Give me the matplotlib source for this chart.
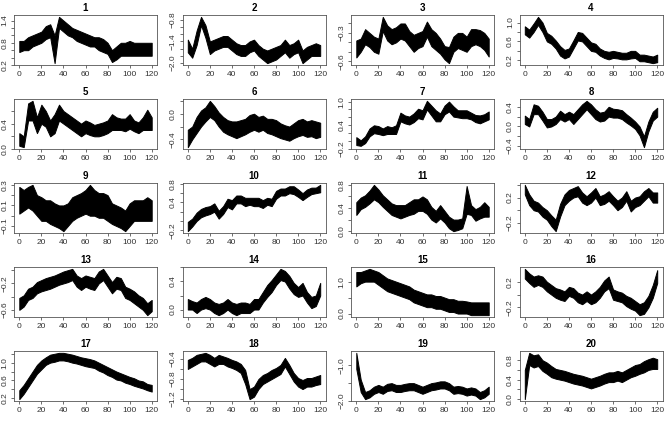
import numpy as np
import matplotlib
matplotlib.use("Agg")
import matplotlib.pyplot as plt

plt.rcParams['font.family'] = ['Liberation Sans', 'DejaVu Sans']

# time axis (every 4 units), lower and upper envelope of each noisy series
x = [0, 4, 8, 12, 16, 20, 24, 28, 32, 36, 40, 44, 48, 52, 56, 60,
     64, 68, 72, 76, 80, 84, 88, 92, 96, 100, 104, 108, 112, 116, 120]

p1_lo = [0.55, 0.6, 0.6, 0.7, 0.75, 0.8, 0.9, 0.95, 0.25, 1.2, 1.1, 1.0, 0.95, 0.85, 0.8, 0.75,
         0.7, 0.7, 0.6, 0.55, 0.5, 0.28, 0.35, 0.45, 0.45, 0.45, 0.45, 0.45, 0.45, 0.45, 0.45]
p1_hi = [0.85, 0.85, 0.95, 1.0, 1.05, 1.1, 1.25, 1.3, 1.0, 1.5, 1.4, 1.3, 1.2, 1.15, 1.1, 1.05,
         1.0, 0.95, 0.95, 0.9, 0.8, 0.6, 0.7, 0.8, 0.8, 0.85, 0.8, 0.8, 0.8, 0.8, 0.8]
p2_lo = [-1.7, -1.85, -1.5, -0.95, -1.3, -1.75, -1.65, -1.6, -1.55, -1.55, -1.65, -1.75, -1.8, -1.8, -1.7, -1.65,
         -1.8, -1.9, -2.0, -1.95, -1.9, -1.8, -1.7, -1.85, -1.75, -1.7, -2.0, -1.9, -1.8, -1.8, -1.8]
p2_hi = [-1.35, -1.6, -1.1, -0.72, -0.95, -1.4, -1.35, -1.3, -1.25, -1.25, -1.35, -1.45, -1.5, -1.5, -1.4, -1.35,
         -1.5, -1.6, -1.65, -1.6, -1.55, -1.5, -1.35, -1.5, -1.45, -1.35, -1.65, -1.55, -1.5, -1.45, -1.5]
p3_lo = [-0.56, -0.5, -0.42, -0.45, -0.5, -0.52, -0.28, -0.38, -0.42, -0.4, -0.36, -0.38, -0.44, -0.5, -0.46, -0.44,
         -0.34, -0.44, -0.48, -0.52, -0.58, -0.62, -0.5, -0.46, -0.48, -0.5, -0.44, -0.42, -0.44, -0.48, -0.55]
p3_hi = [-0.38, -0.36, -0.26, -0.3, -0.34, -0.36, -0.13, -0.22, -0.26, -0.24, -0.2, -0.2, -0.28, -0.32, -0.3, -0.28,
         -0.18, -0.26, -0.3, -0.36, -0.44, -0.45, -0.34, -0.3, -0.3, -0.34, -0.26, -0.26, -0.27, -0.3, -0.36]
p4_lo = [0.75, 0.68, 0.8, 0.95, 0.8, 0.6, 0.55, 0.45, 0.3, 0.24, 0.28, 0.45, 0.62, 0.6, 0.5, 0.4,
         0.38, 0.3, 0.25, 0.22, 0.25, 0.24, 0.22, 0.22, 0.24, 0.25, 0.18, 0.18, 0.16, 0.14, 0.16]
p4_hi = [0.92, 0.85, 0.98, 1.12, 1.0, 0.78, 0.72, 0.62, 0.5, 0.42, 0.45, 0.62, 0.8, 0.78, 0.68, 0.58,
         0.55, 0.45, 0.4, 0.38, 0.4, 0.38, 0.36, 0.36, 0.4, 0.4, 0.32, 0.32, 0.3, 0.28, 0.32]
p5_lo = [0.05, 0.03, 0.45, 0.45, 0.25, 0.4, 0.35, 0.2, 0.25, 0.45, 0.4, 0.35, 0.3, 0.25, 0.2, 0.25,
         0.22, 0.2, 0.2, 0.22, 0.25, 0.3, 0.3, 0.3, 0.28, 0.32, 0.28, 0.25, 0.3, 0.3, 0.3]
p5_hi = [0.25, 0.2, 0.72, 0.76, 0.5, 0.7, 0.6, 0.45, 0.55, 0.7, 0.6, 0.55, 0.5, 0.45, 0.4, 0.45,
         0.42, 0.38, 0.4, 0.42, 0.45, 0.55, 0.5, 0.48, 0.48, 0.55, 0.45, 0.42, 0.5, 0.62, 0.5]
p6_lo = [-0.52, -0.4, -0.3, -0.2, -0.12, -0.05, -0.1, -0.2, -0.28, -0.32, -0.35, -0.38, -0.35, -0.32, -0.28, -0.25,
         -0.28, -0.25, -0.3, -0.32, -0.35, -0.38, -0.4, -0.42, -0.38, -0.35, -0.33, -0.36, -0.35, -0.38, -0.36]
p6_hi = [-0.25, -0.2, -0.05, 0.05, 0.1, 0.2, 0.12, 0.02, -0.05, -0.1, -0.12, -0.12, -0.1, -0.08, -0.02, 0.0,
         -0.05, -0.03, -0.08, -0.08, -0.1, -0.15, -0.18, -0.2, -0.15, -0.1, -0.08, -0.12, -0.1, -0.12, -0.14]
p7_lo = [-0.1, -0.12, -0.05, 0.12, 0.2, 0.18, 0.15, 0.18, 0.18, 0.18, 0.5, 0.45, 0.42, 0.48, 0.58, 0.55,
         0.8, 0.65, 0.5, 0.5, 0.68, 0.75, 0.62, 0.6, 0.58, 0.58, 0.55, 0.48, 0.45, 0.5, 0.55]
p7_hi = [0.1, 0.02, 0.12, 0.32, 0.4, 0.38, 0.32, 0.38, 0.35, 0.4, 0.72, 0.65, 0.62, 0.7, 0.82, 0.78,
         1.02, 0.9, 0.78, 0.7, 0.9, 1.0, 0.88, 0.78, 0.78, 0.78, 0.72, 0.66, 0.65, 0.68, 0.75]
p8_lo = [0.05, 0.0, 0.25, 0.25, 0.12, -0.02, 0.0, 0.05, 0.15, 0.1, 0.15, 0.05, 0.15, 0.25, 0.35, 0.25,
         0.15, 0.1, 0.12, 0.2, 0.18, 0.18, 0.15, 0.08, 0.02, -0.05, -0.18, -0.42, -0.1, 0.12, 0.2]
p8_hi = [0.22, 0.15, 0.45, 0.42, 0.3, 0.15, 0.15, 0.2, 0.32, 0.25, 0.3, 0.25, 0.35, 0.45, 0.52, 0.45,
         0.35, 0.28, 0.3, 0.4, 0.36, 0.35, 0.33, 0.25, 0.18, 0.1, 0.0, -0.2, 0.1, 0.3, 0.38]
p9_lo = [0.02, 0.05, 0.08, 0.05, 0.0, -0.05, -0.05, -0.08, -0.1, -0.12, -0.15, -0.1, -0.05, -0.02, 0.0, 0.02,
         0.0, 0.0, -0.02, -0.02, -0.05, -0.08, -0.1, -0.12, -0.15, -0.1, -0.05, -0.05, -0.05, -0.05, -0.05]
p9_hi = [0.28, 0.25, 0.28, 0.3, 0.2, 0.18, 0.15, 0.15, 0.12, 0.1, 0.1, 0.12, 0.18, 0.2, 0.22, 0.25,
         0.3, 0.25, 0.22, 0.22, 0.2, 0.12, 0.1, 0.08, 0.05, 0.12, 0.15, 0.15, 0.15, 0.18, 0.15]
p10_lo = [-0.22, -0.12, 0.0, 0.08, 0.12, 0.15, 0.2, 0.05, 0.15, 0.3, 0.25, 0.38, 0.38, 0.32, 0.35, 0.32,
          0.32, 0.28, 0.35, 0.32, 0.48, 0.55, 0.55, 0.6, 0.58, 0.52, 0.45, 0.52, 0.58, 0.6, 0.62]
p10_hi = [-0.02, 0.05, 0.18, 0.26, 0.3, 0.32, 0.38, 0.22, 0.32, 0.48, 0.45, 0.55, 0.55, 0.5, 0.5, 0.5,
          0.5, 0.45, 0.5, 0.48, 0.65, 0.7, 0.7, 0.75, 0.75, 0.68, 0.6, 0.68, 0.72, 0.72, 0.78]
p11_lo = [0.28, 0.38, 0.42, 0.48, 0.55, 0.5, 0.42, 0.35, 0.28, 0.25, 0.22, 0.25, 0.28, 0.3, 0.35, 0.35,
          0.3, 0.2, 0.15, 0.22, 0.15, 0.05, 0.0, 0.02, 0.05, 0.3, 0.28, 0.18, 0.22, 0.25, 0.25]
p11_hi = [0.5, 0.58, 0.62, 0.7, 0.8, 0.72, 0.62, 0.55, 0.48, 0.45, 0.45, 0.45, 0.5, 0.55, 0.55, 0.6,
          0.55, 0.42, 0.35, 0.45, 0.35, 0.25, 0.2, 0.2, 0.22, 0.78, 0.45, 0.38, 0.42, 0.5, 0.42]
p12_lo = [0.25, 0.08, 0.0, -0.02, -0.1, -0.15, -0.25, -0.33, -0.1, 0.08, 0.15, 0.2, 0.22, 0.12, 0.08, 0.12,
          0.2, 0.08, 0.1, 0.15, 0.08, 0.0, 0.05, 0.15, -0.02, 0.05, 0.08, 0.15, 0.22, 0.12, 0.12]
p12_hi = [0.4, 0.25, 0.15, 0.12, 0.05, 0.0, -0.08, -0.15, 0.1, 0.25, 0.32, 0.35, 0.38, 0.28, 0.22, 0.28,
          0.35, 0.22, 0.25, 0.3, 0.22, 0.15, 0.2, 0.3, 0.15, 0.2, 0.22, 0.3, 0.35, 0.28, 0.28]
p13_lo = [-0.6, -0.55, -0.45, -0.42, -0.35, -0.32, -0.3, -0.28, -0.25, -0.22, -0.2, -0.18, -0.15, -0.25, -0.3, -0.25,
          -0.28, -0.3, -0.2, -0.15, -0.25, -0.35, -0.28, -0.3, -0.42, -0.45, -0.5, -0.55, -0.6, -0.68, -0.62]
p13_hi = [-0.42, -0.38, -0.28, -0.25, -0.18, -0.15, -0.12, -0.1, -0.08, -0.05, -0.02, 0.0, 0.02, -0.08, -0.12, -0.08,
          -0.1, -0.12, -0.02, 0.02, -0.08, -0.18, -0.1, -0.12, -0.25, -0.28, -0.32, -0.38, -0.42, -0.5, -0.45]
p14_lo = [0.0, 0.0, -0.05, 0.0, 0.02, 0.0, -0.05, -0.08, -0.05, 0.0, -0.05, -0.08, -0.05, -0.05, -0.05, 0.0,
          0.0, 0.1, 0.18, 0.25, 0.35, 0.42, 0.4, 0.3, 0.22, 0.18, 0.2, 0.1, 0.02, 0.05, 0.2]
p14_hi = [0.15, 0.12, 0.1, 0.15, 0.18, 0.15, 0.1, 0.08, 0.1, 0.15, 0.1, 0.08, 0.1, 0.1, 0.08, 0.15,
          0.15, 0.25, 0.35, 0.42, 0.5, 0.58, 0.55, 0.48, 0.38, 0.32, 0.38, 0.25, 0.18, 0.2, 0.38]
p15_lo = [0.85, 0.95, 1.0, 1.0, 1.0, 0.9, 0.8, 0.7, 0.65, 0.6, 0.55, 0.5, 0.45, 0.35, 0.3, 0.25,
          0.2, 0.2, 0.15, 0.15, 0.1, 0.05, 0.05, 0.0, 0.0, 0.0, -0.05, -0.05, -0.05, -0.05, -0.05]
p15_hi = [1.3, 1.3, 1.35, 1.4, 1.35, 1.3, 1.2, 1.1, 1.05, 1.0, 0.95, 0.9, 0.85, 0.75, 0.7, 0.65,
          0.6, 0.6, 0.55, 0.55, 0.5, 0.45, 0.45, 0.4, 0.4, 0.38, 0.35, 0.35, 0.35, 0.35, 0.35]
p16_lo = [0.25, 0.18, 0.12, 0.15, 0.12, 0.05, 0.0, -0.05, -0.08, -0.1, -0.02, -0.05, -0.12, -0.15, -0.1, -0.15,
          -0.12, -0.05, 0.05, 0.1, -0.08, -0.1, -0.12, -0.18, -0.22, -0.25, -0.32, -0.3, -0.2, -0.05, 0.18]
p16_hi = [0.4, 0.33, 0.28, 0.3, 0.28, 0.2, 0.15, 0.1, 0.08, 0.05, 0.12, 0.1, 0.03, 0.0, 0.05, 0.0,
          0.05, 0.12, 0.22, 0.28, 0.08, 0.05, 0.03, -0.02, -0.05, -0.1, -0.15, -0.12, -0.02, 0.15, 0.38]
p17_lo = [0.18, 0.3, 0.45, 0.6, 0.75, 0.85, 0.95, 1.0, 1.02, 1.05, 1.05, 1.03, 1.0, 0.98, 0.95, 0.92,
          0.9, 0.88, 0.82, 0.78, 0.72, 0.68, 0.62, 0.6, 0.55, 0.52, 0.48, 0.45, 0.42, 0.38, 0.35]
p17_hi = [0.38, 0.5, 0.65, 0.8, 0.95, 1.05, 1.12, 1.18, 1.2, 1.22, 1.22, 1.2, 1.18, 1.15, 1.12, 1.1,
          1.08, 1.05, 1.0, 0.95, 0.9, 0.85, 0.8, 0.76, 0.72, 0.68, 0.65, 0.6, 0.58, 0.52, 0.5]
p18_lo = [-0.6, -0.55, -0.5, -0.45, -0.45, -0.5, -0.55, -0.5, -0.5, -0.55, -0.58, -0.62, -0.68, -0.9, -1.2, -1.15,
          -1.0, -0.9, -0.85, -0.8, -0.75, -0.7, -0.55, -0.7, -0.85, -0.95, -1.0, -0.95, -0.95, -0.92, -0.9]
p18_hi = [-0.42, -0.38, -0.32, -0.3, -0.28, -0.32, -0.38, -0.32, -0.35, -0.38, -0.42, -0.45, -0.5, -0.62, -1.0, -0.95,
          -0.8, -0.72, -0.68, -0.62, -0.58, -0.52, -0.38, -0.52, -0.68, -0.78, -0.82, -0.78, -0.78, -0.75, -0.72]
p19_lo = [-1.1, -1.75, -1.95, -1.9, -1.8, -1.75, -1.8, -1.72, -1.7, -1.75, -1.75, -1.72, -1.7, -1.7, -1.75, -1.8,
          -1.75, -1.7, -1.68, -1.65, -1.65, -1.7, -1.8, -1.78, -1.8, -1.85, -1.82, -1.85, -1.95, -1.9, -1.8]
p19_hi = [-0.65, -1.4, -1.75, -1.7, -1.6, -1.55, -1.6, -1.52, -1.5, -1.55, -1.55, -1.52, -1.5, -1.5, -1.55, -1.6,
          -1.55, -1.5, -1.48, -1.45, -1.45, -1.5, -1.6, -1.58, -1.6, -1.65, -1.62, -1.65, -1.75, -1.7, -1.6]
p20_lo = [0.0, 0.7, 0.65, 0.68, 0.58, 0.52, 0.45, 0.42, 0.4, 0.38, 0.35, 0.32, 0.3, 0.28, 0.25, 0.22,
          0.25, 0.28, 0.32, 0.35, 0.35, 0.38, 0.35, 0.4, 0.45, 0.48, 0.52, 0.55, 0.6, 0.62, 0.62]
p20_hi = [0.6, 0.95, 0.9, 0.92, 0.8, 0.75, 0.68, 0.62, 0.6, 0.58, 0.55, 0.52, 0.5, 0.48, 0.45, 0.42,
          0.45, 0.48, 0.52, 0.55, 0.55, 0.58, 0.55, 0.6, 0.65, 0.7, 0.72, 0.78, 0.82, 0.85, 0.82]

# y tick positions and which of them carry a label
yticks = [
    [0.2, 0.4, 0.6, 0.8, 1.0, 1.2, 1.4], [-2.0, -1.8, -1.6, -1.4, -1.2, -1.0, -0.8],
    [-0.6, -0.5, -0.4, -0.3, -0.2], [0.2, 0.4, 0.6, 0.8, 1.0],
    [0.0, 0.2, 0.4, 0.6], [-0.4, -0.2, 0.0, 0.2],
    [-0.2, 0.0, 0.2, 0.4, 0.6, 0.8, 1.0], [-0.4, -0.2, 0.0, 0.2, 0.4],
    [-0.1, 0.0, 0.1, 0.2, 0.3], [-0.2, 0.0, 0.2, 0.4, 0.6, 0.8],
    [0.0, 0.2, 0.4, 0.6, 0.8], [-0.2, 0.0, 0.2, 0.4],
    [-0.6, -0.4, -0.2, 0.0], [0.0, 0.2, 0.4, 0.6],
    [0.0, 0.5, 1.0], [-0.2, 0.0, 0.2],
    [0.2, 0.4, 0.6, 0.8, 1.0, 1.2], [-1.2, -1.0, -0.8, -0.6, -0.4],
    [-2.0, -1.5, -1.0], [0.0, 0.2, 0.4, 0.6, 0.8],
]
ylabeled = [
    [0.2, 0.8, 1.4], [-2.0, -1.4, -0.8], [-0.6, -0.3], [0.2, 0.6, 1.0],
    [0.0, 0.4], [-0.4, 0.0], [-0.2, 0.4, 1.0], [-0.4, 0.0, 0.4],
    [-0.1, 0.1, 0.3], [-0.2, 0.4, 0.8], [0.0, 0.4, 0.8], [-0.2, 0.2],
    [-0.6, -0.2], [0.0, 0.4], [0.0, 1.0], [-0.2, 0.2],
    [0.2, 0.6, 1.0], [-1.2, -0.8, -0.4], [-2.0, -1.0], [0.0, 0.4, 0.8],
]
xticks = [0, 20, 40, 60, 80, 100, 120]

series = [(p1_lo, p1_hi), (p2_lo, p2_hi), (p3_lo, p3_hi), (p4_lo, p4_hi),
          (p5_lo, p5_hi), (p6_lo, p6_hi), (p7_lo, p7_hi), (p8_lo, p8_hi),
          (p9_lo, p9_hi), (p10_lo, p10_hi), (p11_lo, p11_hi), (p12_lo, p12_hi),
          (p13_lo, p13_hi), (p14_lo, p14_hi), (p15_lo, p15_hi), (p16_lo, p16_hi),
          (p17_lo, p17_hi), (p18_lo, p18_hi), (p19_lo, p19_hi), (p20_lo, p20_hi)]

W, H = 672, 422
fig = plt.figure(figsize=(W / 100, H / 100), dpi=100)

for i, (lo, hi) in enumerate(series):
    r, c = divmod(i, 4)
    left = 14 + 168.5 * c
    top = 15 + 84 * r
    ax = fig.add_axes([left / W, 1 - (top + 50) / H, 143 / W, 50 / H])
    ax.fill_between(x, lo, hi, facecolor='black', edgecolor='black', linewidth=0.7)

    ax.margins(x=0.04, y=0.04)
    ax.set_xticks(xticks)
    ax.set_yticks(yticks[i])
    ax.set_yticklabels([("%.1f" % t).replace('-', '\u2212') if t in ylabeled[i] else ''
                        for t in yticks[i]], rotation=90, va='center')
    ax.tick_params(labelsize=6, length=2.5, width=0.5, pad=1.5, colors='#333333')
    for s in ax.spines.values():
        s.set_linewidth(0.6)
        s.set_color('#555555')
    ax.set_title(str(i + 1), fontsize=7, fontweight='bold', pad=3)

fig.savefig("out.png", dpi=100)
